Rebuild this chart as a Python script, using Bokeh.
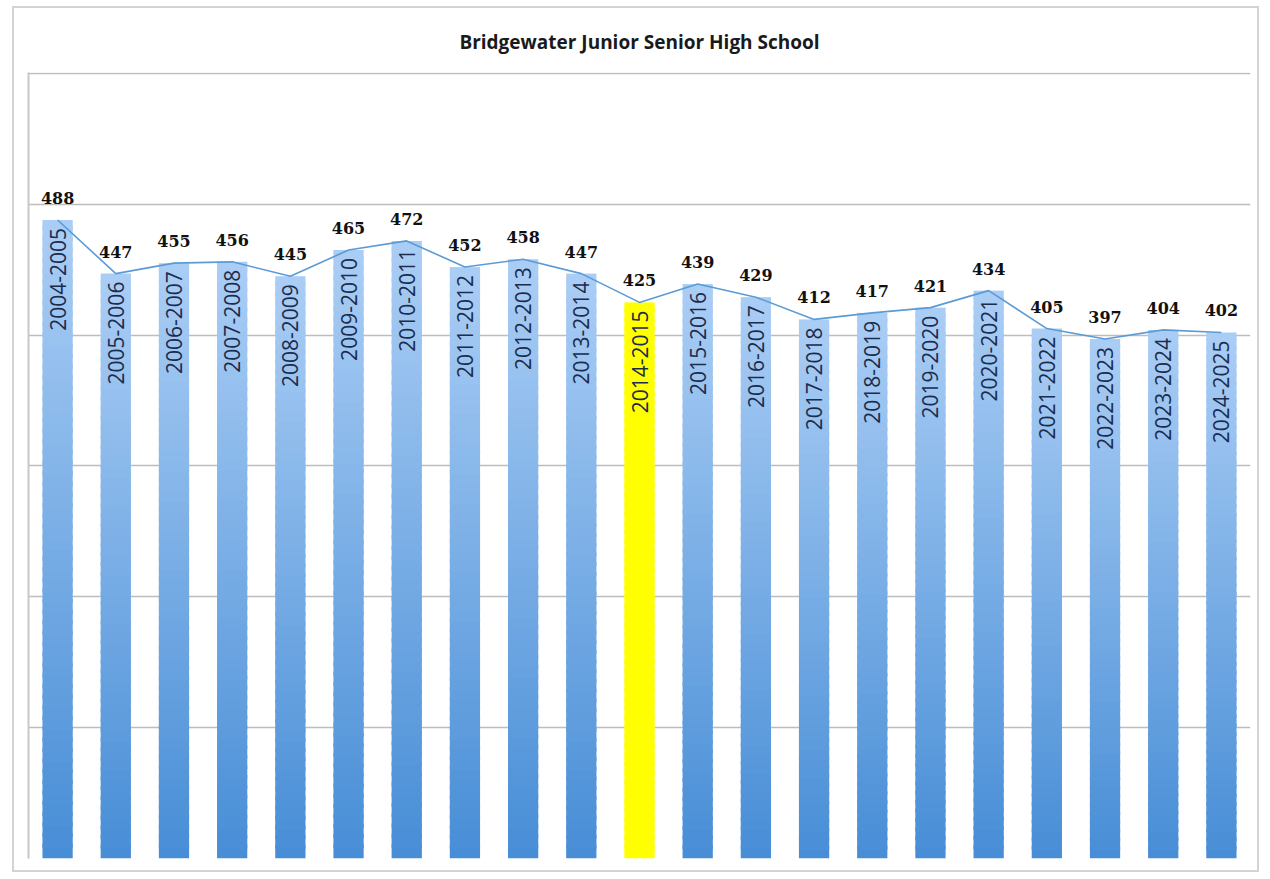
import numpy as np
from bokeh.plotting import figure
from bokeh.models import ColumnDataSource, FixedTicker, Title
from bokeh.core.properties import value
from bokeh.embed import file_html
from bokeh.resources import INLINE

years = ["2004-2005", "2005-2006", "2006-2007", "2007-2008", "2008-2009", "2009-2010",
         "2010-2011", "2011-2012", "2012-2013", "2013-2014", "2014-2015", "2015-2016",
         "2016-2017", "2017-2018", "2018-2019", "2019-2020", "2020-2021", "2021-2022",
         "2022-2023", "2023-2024", "2024-2025"]
enrollment = [488, 447, 455, 456, 445, 465, 472, 452, 458, 447, 425, 439,
              429, 412, 417, 421, 434, 405, 397, 404, 402]
highlight = "2014-2015"
grid_ticks = [0, 100, 200, 300, 400, 500, 600]

TITLE = "Bridgewater Junior Senior High School"

p = figure(x_range=years, y_range=(0, 600.7), width=1247, height=866,
           output_backend="svg", toolbar_location=None,
           min_border_left=14, min_border_right=11, min_border_top=64, min_border_bottom=16)
p.styles = {"border": "2px solid #d3d3d3", "margin": "6px 0px 0px 12px"}
p.x_range.range_padding = 0
p.outline_line_color = None
p.background_fill_color = "white"
p.border_fill_color = "white"

t = Title(text=TITLE, align="center", text_font="Open Sans", text_font_size="19px",
          text_font_style="bold", text_color="#1a1a1a", standoff=35)
p.add_layout(t, "above")

# gradient bars built from segments of each value
N = 60
top_c = np.array([0xAB, 0xCE, 0xF5])
bot_c = np.array([0x47, 0x8D, 0xD6])
xs, bots, tops, cols = [], [], [], []
for yr, v in zip(years, enrollment):
    for j in range(N):
        xs.append(yr)
        bots.append(v * j / N)
        tops.append(min(v, v * (j + 1.4) / N))
        if yr == highlight:
            cols.append("#ffff00")
        else:
            f = (j + 0.5) / N
            c = bot_c + (top_c - bot_c) * f
            cols.append("#%02x%02x%02x" % tuple(int(round(k)) for k in c))
seg = ColumnDataSource(dict(x=xs, bottom=bots, top=tops, color=cols))
p.vbar(x="x", bottom="bottom", top="top", width=0.52, fill_color="color",
       line_color=None, source=seg)

src = ColumnDataSource(dict(x=years, y=enrollment, lab=[str(v) for v in enrollment]))
p.line(x="x", y="y", source=src, line_color="#5b9bd5", line_width=1.6)

p.text(x="x", y="y", text="lab", source=src, text_align="center", text_baseline="bottom",
       y_offset=-16, text_font=value("DejaVu Serif"), text_font_style="bold",
       text_font_size="16px", text_color="#111111")

p.text(x="x", y="y", text="x", source=src, angle=np.pi / 2, text_align="right",
       text_baseline="middle", y_offset=8, text_font=value("Open Sans"),
       text_font_size="21px", text_color="#1c2c4c")

p.yaxis.ticker = FixedTicker(ticks=grid_ticks)
p.yaxis.major_label_overrides = {tk: "" for tk in grid_ticks}
p.yaxis.major_tick_line_color = None
p.yaxis.minor_tick_line_color = None
p.yaxis.axis_line_color = "#c8c8c8"
p.yaxis.axis_line_width = 2
p.yaxis.major_label_standoff = 0
p.xaxis.visible = False
p.ygrid.ticker = FixedTicker(ticks=grid_ticks)
p.ygrid.grid_line_color = "#bdbdbd"
p.ygrid.grid_line_width = 1.6
p.xgrid.grid_line_color = None

open("out.html", "w").write(file_html(p, INLINE))
